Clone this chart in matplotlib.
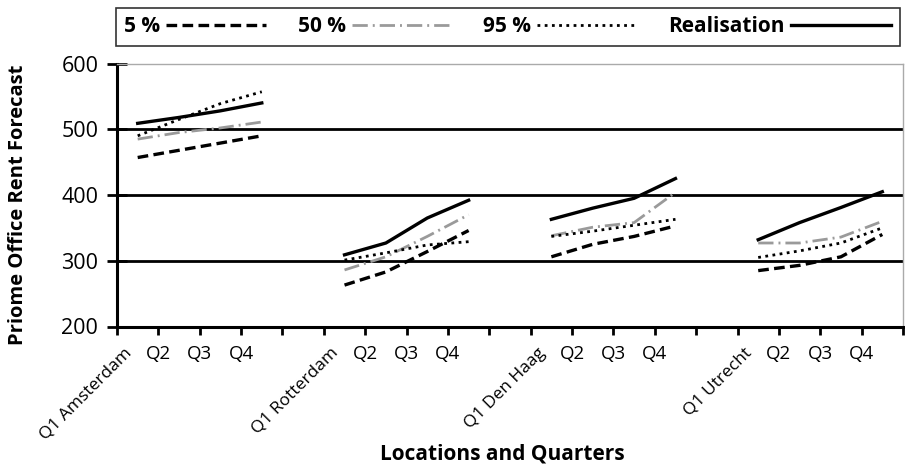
import matplotlib
matplotlib.use("Agg")
import matplotlib.pyplot as plt
import matplotlib.transforms as mtransforms
from matplotlib.lines import Line2D
import numpy as np

plt.rcParams['font.family'] = ['Open Sans', 'DejaVu Sans']

# ---------------- data ----------------
locations = ["Amsterdam", "Rotterdam", "Den Haag", "Utrecht"]
quarters = ["Q1", "Q2", "Q3", "Q4"]

p5 = {
    "Amsterdam": [457, 468, 479, 490],
    "Rotterdam": [263, 283, 314, 346],
    "Den Haag": [306, 325, 337, 353],
    "Utrecht": [285, 293, 306, 340],
}
p50 = {
    "Amsterdam": [485, 495, 502, 511],
    "Rotterdam": [286, 306, 337, 370],
    "Den Haag": [338, 351, 358, 404],
    "Utrecht": [327, 327, 336, 360],
}
p95 = {
    "Amsterdam": [490, 515, 539, 557],
    "Rotterdam": [301, 312, 324, 329],
    "Den Haag": [337, 345, 354, 363],
    "Utrecht": [305, 315, 327, 350],
}
realisation = {
    "Amsterdam": [509, 518, 528, 540],
    "Rotterdam": [309, 327, 365, 392],
    "Den Haag": [363, 380, 395, 425],
    "Utrecht": [332, 358, 381, 405],
}

y_ticks = [200, 300, 400, 500, 600]
grid_levels = [300, 400, 500]
legend_labels = ["5 %", "50 %", "95 %", "Realisation"]

# category slots: 4 quarters per location + 1 empty gap slot between locations
slots = []
for i, loc in enumerate(locations):
    for q in quarters:
        slots.append(q + " " + loc if q == "Q1" else q)
    if i < len(locations) - 1:
        slots.append("")
n_slots = len(slots)

# ---------------- figure ----------------
fig = plt.figure(figsize=(9.05, 4.68), dpi=100)
ax = fig.add_axes([117 / 905, 1 - 326.5 / 468, 786 / 905, 263 / 468])

styles = {
    "5 %": dict(color="black", lw=2.4, linestyle=(0, (3.2, 1.6))),
    "50 %": dict(color="#9a9a9a", lw=2.0, linestyle=(0, (5.5, 1.8, 0.7, 1.8))),
    "95 %": dict(color="black", lw=2.0, linestyle=(0, (1.0, 1.6))),
    "Realisation": dict(color="black", lw=2.4, linestyle="-"),
}
series = {"5 %": p5, "50 %": p50, "95 %": p95, "Realisation": realisation}

for gl in grid_levels:
    ax.axhline(gl, color="black", lw=2.0, zorder=1)

for li, loc in enumerate(locations):
    xs = np.arange(len(quarters)) + li * (len(quarters) + 1)
    for name in ["50 %", "5 %", "95 %", "Realisation"]:
        ax.plot(xs, series[name][loc], zorder=3, **styles[name])

ax.set_xlim(-0.5, n_slots - 0.5)
ax.set_ylim(200, 600)
ax.set_yticks(y_ticks)
ax.set_yticklabels([str(v) for v in y_ticks], fontsize=15.5)
ax.tick_params(axis="y", direction="inout", length=15, width=2, pad=6)

tick_pos = np.arange(n_slots + 1) - 0.5
ax.set_xticks(tick_pos)
ax.set_xticklabels(slots + [""], fontsize=13.5)
ax.tick_params(axis="x", direction="out", length=6, width=2, pad=7)

for lbl in ax.get_xticklabels():
    if lbl.get_text().startswith("Q1"):
        lbl.set_rotation(45)
        lbl.set_rotation_mode("anchor")
        lbl.set_ha("right")
        lbl.set_va("center")
        lbl.set_fontsize(12.5)
        off = mtransforms.ScaledTranslation(12 / 100, -6 / 100, fig.dpi_scale_trans)
        lbl.set_transform(lbl.get_transform() + off)

for s in ["left", "bottom"]:
    ax.spines[s].set_color("black")
    ax.spines[s].set_linewidth(2.2)
for s in ["top", "right"]:
    ax.spines[s].set_color("#aaaaaa")
    ax.spines[s].set_linewidth(1.0)

ax.set_ylabel("Priome Office Rent Forecast", fontsize=14.5, fontweight="bold")
ax.set_xlabel("Locations and Quarters", fontsize=15, fontweight="bold")
ax.xaxis.set_label_coords(0.49, -0.445)
ax.yaxis.set_label_coords(-0.113, 0.462)

handles = [Line2D([0], [0], **styles[n]) for n in legend_labels]
leg = ax.legend(handles, legend_labels, loc="center",
                bbox_to_anchor=(0.497, 1.139),
                ncol=4, markerfirst=False, handlelength=4.8, borderaxespad=0,
                frameon=True, fancybox=False, edgecolor="black",
                prop=dict(weight="bold", size=15), handletextpad=0.3,
                columnspacing=1.5, borderpad=0.4)
leg.get_frame().set_linewidth(1.2)

fig.savefig("out.png", dpi=100)
